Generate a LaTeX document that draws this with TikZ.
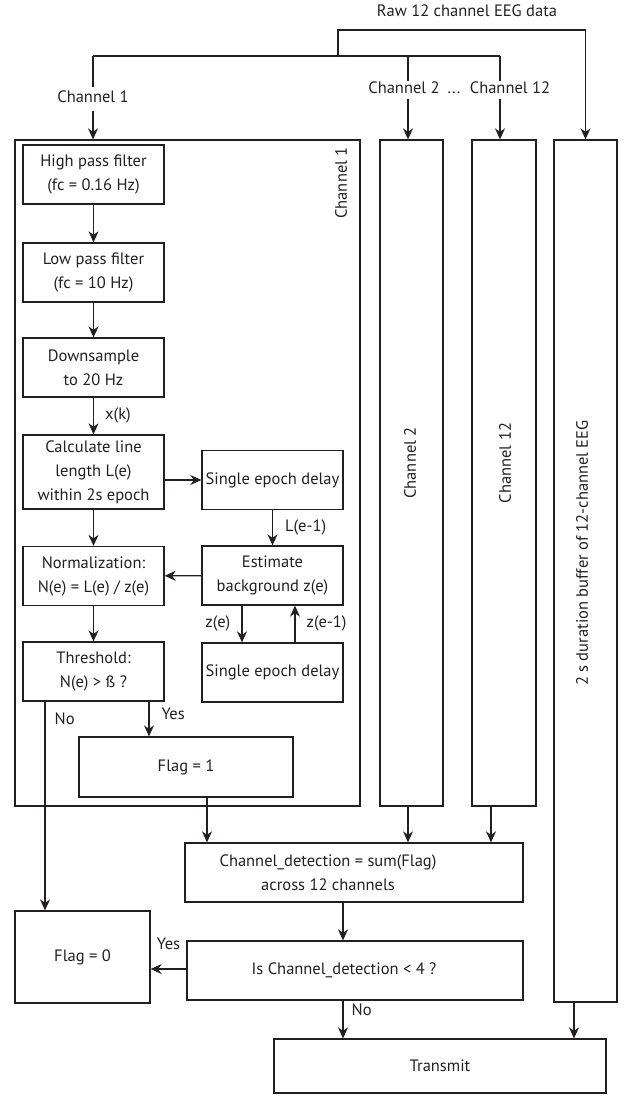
\documentclass[tikz,border=0pt]{standalone}
\usepackage{fontspec}
\setmainfont{PT Sans}
\usepackage{tikz}
\usetikzlibrary{positioning,arrows.meta,calc}
\definecolor{inkgray}{RGB}{35,31,32}

\tikzset{
    blk/.style={draw=inkgray, line width=1.3pt, minimum width=141pt, minimum height=59pt,
        align=center, inner sep=0pt, text=inkgray, font=\fontsize{16.5}{24}\selectfont},
    frm/.style={draw=inkgray, line width=1.3pt, inner sep=0pt, minimum height=666pt},
    lbl/.style={text=inkgray, font=\fontsize{16.5}{18}\selectfont, inner sep=1pt,
        text height=11.5pt, text depth=4pt},
    ln/.style={draw=inkgray, line width=1.3pt},
    arr/.style={ln, -{Stealth[length=11pt, width=10pt, inset=3.5pt]}},
}

\begin{document}
\begin{tikzpicture}[x=1pt, y=-1pt]
    \useasboundingbox (0,0) rectangle (627,1096);

    % Raw EEG input and its split into the channels
    \node[lbl] (raw) at (467,13) {Raw 12 channel EEG data};
    \coordinate (rawtop) at (338,30);
    \coordinate (split) at (338,56);
    \coordinate (brone) at (93,56);
    \coordinate (brtwo) at (408,56);
    \coordinate (brtwelve) at (500,56);
    \draw[ln] (brone) -- (brtwelve);

    % Channel containers (tall frames)
    \node[frm, minimum width=345pt] (chone) at (187.5,473) {};
    \node[frm, minimum width=63pt] (chtwo) at (411.5,473) {};
    \node[frm, minimum width=64pt] (chtwelve) at (504,473) {};
    \node[frm, minimum width=63pt, minimum height=862pt] (buf) at (585.5,571) {};
    \node[lbl, rotate=90] (chonetag) at (343,183) {Channel 1};
    \node[lbl, rotate=90] (chtwotag) at (412,463) {Channel 2};
    \node[lbl, rotate=90] (chtwelvetag) at (507,463) {Channel 12};
    \node[lbl, rotate=90] (buftag) at (584,553) {2 s duration buffer of 12-channel EEG};

    % Channel labels on the input lines
    \node[lbl, inner sep=4pt] (chonelbl) at (93,99) {Channel 1};
    \node[lbl] (chtwolbl) at (404,90) {Channel 2};
    \node[lbl] (dots) at (454,90) {...};
    \node[lbl] (chtwelvelbl) at (510,90) {Channel 12};

    \draw[arr] (split) -- (rawtop) -| (buf.north);
    \draw[ln] (brone) -- (chonelbl.north);
    \draw[arr] (chonelbl.south) -- (chonelbl.south |- chone.north);
    \draw[ln] (brtwo) -- (brtwo |- chtwolbl.north);
    \draw[arr] (brtwo |- chtwolbl.south) -- (brtwo |- chtwo.north);
    \draw[ln] (brtwelve) -- (brtwelve |- chtwelvelbl.north);
    \draw[arr] (brtwelve |- chtwelvelbl.south) -- (brtwelve |- chtwelve.north);

    % Processing chain of channel 1
    \node[blk] (hpf) at (93.5,174.5) {High pass filter\\(fc = 0.16 Hz)};
    \node[blk] (lpf) at (93.5,272.5) {Low pass filter\\(fc = 10 Hz)};
    \node[blk] (dsm) at (93.5,367.5) {Downsample\\to 20 Hz};
    \node[blk, minimum height=74pt] (calc) at (93.5,472) {Calculate line\\length L(e)\\within 2s epoch};
    \node[blk] (norm) at (93.5,576) {Normalization:\\N(e) = L(e) / z(e)};
    \node[blk] (thr) at (93.5,671.5) {Threshold:\\N(e) > ß ?};

    % Background estimation loop
    \node[blk] (dlyone) at (272.5,480) {Single epoch delay};
    \node[blk] (est) at (272.5,575.5) {Estimate\\background z(e)};
    \node[blk] (dlytwo) at (272.5,672.5) {Single epoch delay};

    \node[blk, minimum width=214pt, minimum height=60pt] (flagone) at (186,767) {Flag = 1};

    % Decision over all channels
    \node[blk, minimum width=338pt, label={[blk, draw=none, xshift=-26pt]center:{Channel\_detection = sum(Flag)\\across 12 channels}}] (det) at (354,872.5) {};
    \node[blk, minimum width=336pt, label={[blk, draw=none, xshift=-11pt]center:{Is Channel\_detection < 4 ?}}] (isdet) at (355,970.5) {};
    \node[blk, minimum width=135pt, minimum height=92pt] (flagzero) at (82.5,957) {Flag = 0};
    \node[blk, minimum width=332pt, minimum height=54pt] (tx) at (440,1066) {Transmit};

    % Connectors inside channel 1
    \draw[arr] (hpf) -- (lpf);
    \draw[arr] (lpf) -- (dsm);
    \draw[arr] (dsm) -- node[lbl, right=10pt] {x(k)} (calc);
    \draw[arr] (calc.east |- dlyone) -- (dlyone.west);
    \draw[arr] (calc) -- (norm);
    \draw[arr] (dlyone) -- node[lbl, right=11pt] {L(e-1)} (est);
    \draw[arr] (est) -- (norm);
    \draw[arr] ([xshift=-30.5pt]est.south) -- node[lbl, left=10pt] {z(e)} ([xshift=-30.5pt]est.south |- dlytwo.north);
    \draw[arr] ([xshift=22.5pt]dlytwo.north) -- node[lbl, right=10pt] {z(e-1)} ([xshift=22.5pt]dlytwo.north |- est.south);
    \draw[arr] (norm) -- (thr);
    \draw[arr] ([xshift=55.5pt]thr.south) -- node[lbl, right=11pt, pos=0.4] {Yes} ([xshift=55.5pt]thr.south |- flagone.north);
    \draw[arr] ([xshift=-48.5pt]thr.south) -- node[lbl, right=8pt, pos=0.09] {No} ([xshift=-48.5pt]thr.south |- flagzero.north);

    % Connectors to the decision
    \draw[arr] ([xshift=21pt]flagone.south) -- ([xshift=21pt]flagone.south |- det.north);
    \draw[arr] ([xshift=-3.5pt]chtwo.south) -- ([xshift=-3.5pt]chtwo.south |- det.north);
    \draw[arr] ([xshift=-13pt]chtwelve.south) -- ([xshift=-13pt]chtwelve.south |- det.north);
    \draw[arr] ([xshift=-11pt]det.south) -- ([xshift=-11pt]det.south |- isdet.north);
    \draw[arr] ([yshift=1.5pt]isdet.west) -- node[lbl, above=14pt] {Yes} ([yshift=1.5pt]isdet.west -| flagzero.east);
    \draw[arr] ([xshift=-12pt]isdet.south) -- node[lbl, right=7pt, pos=0.3] {No} ([xshift=-12pt]isdet.south |- tx.north);
    \draw[arr] ([xshift=-11.5pt]buf.south) -- ([xshift=-11.5pt]buf.south |- tx.north);
\end{tikzpicture}
\end{document}
